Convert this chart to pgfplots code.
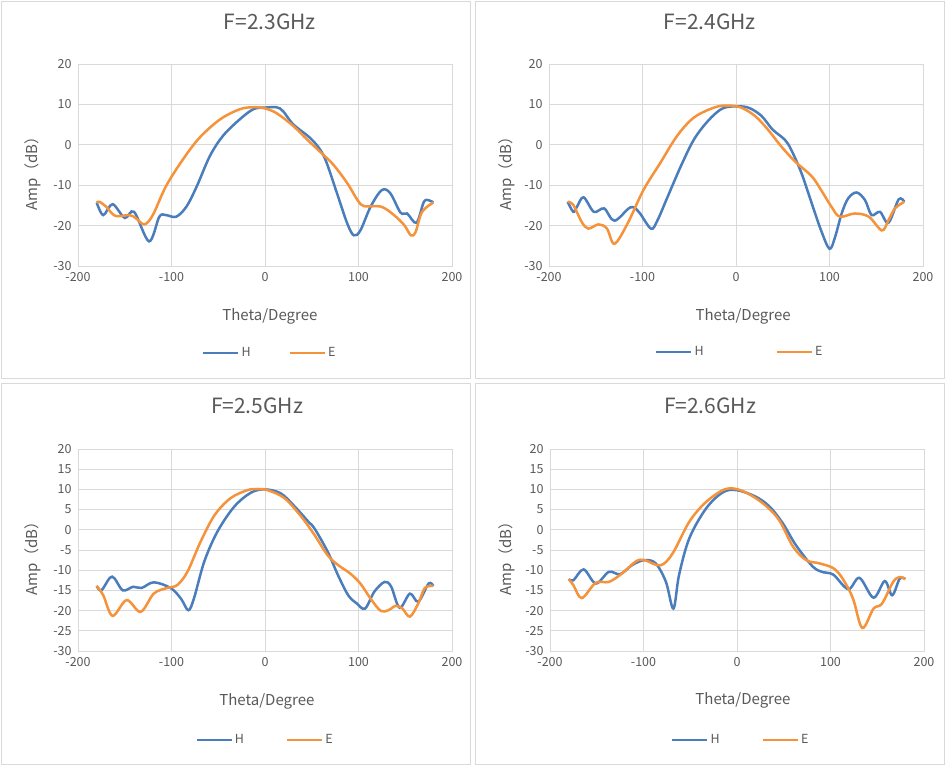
\documentclass[border=0pt]{standalone}
\usepackage{pgfplots}
\pgfplotsset{compat=1.18}
\usepackage{fontspec}
\setmainfont{Noto Sans CJK SC}
\definecolor{hblue}{HTML}{4A7DBB}
\definecolor{eorange}{HTML}{F5923A}
\definecolor{txt}{HTML}{595959}
\definecolor{gridc}{HTML}{D9D9D9}
\pgfplotsset{
  panel/.style={
    scale only axis, width=374pt, height=202pt,
    anchor=south west,
    xmin=-200, xmax=200, ymin=-30, ymax=20,
    xtick={-200,-100,0,100,200},
    grid=major, major grid style={gridc, line width=0.8pt},
    axis line style={gridc, line width=0.8pt},
    major tick length=0pt,
    tick label style={txt, font=\fontsize{12.5}{14}\selectfont},
    /pgf/number format/assume math mode=true,
    xticklabel style={yshift=-3pt},
    yticklabel style={xshift=-3pt},
    title style={txt, font=\fontsize{21}{24}\selectfont, anchor=center},
    xlabel style={txt, font=\fontsize{15}{17}\selectfont, anchor=center},
    ylabel style={txt, font=\fontsize{15}{17}\selectfont, anchor=center},
    xlabel={Theta/Degree}, ylabel={Amp（dB）},
    legend columns=2,
    legend style={draw=none, fill=none, anchor=center, text=txt, font=\fontsize{12.5}{14}\selectfont},
    legend image code/.code={\draw[#1] (0pt,0pt) -- (35pt,0pt);},
    every axis plot/.append style={line width=2.5pt, smooth, tension=0.55},
  }
}
\begin{document}
\begin{tikzpicture}[x=1pt,y=1pt]
\useasboundingbox (0pt,0pt) rectangle (945pt,765pt);
\path[fill=white] (0pt,0pt) rectangle (945pt,765pt);
\draw[gridc, line width=0.8pt] (1pt,387pt) rectangle (470pt,764pt);
\draw[gridc, line width=0.8pt] (475pt,387pt) rectangle (944pt,764pt);
\draw[gridc, line width=0.8pt] (1pt,1pt) rectangle (470pt,382pt);
\draw[gridc, line width=0.8pt] (475pt,1pt) rectangle (944pt,382pt);

% Panel 1
\begin{axis}[panel, at={(78pt,499pt)},
  ytick={-30,-20,...,20},
  title={F=2.3GHz}, title style={at={(axis description cs:0.513,1.178)}},
  xlabel style={at={(axis description cs:0.513,-0.248)}},
  ylabel style={at={(axis description cs:-0.12,0.475)}},
  legend style={at={(axis description cs:0.513,-0.431)}, /tikz/every even column/.append style={column sep=36pt}}]
\addplot[hblue] coordinates {
(-180,-14.3) (-173,-17.4) (-163,-14.7) (-150,-18.1) (-140,-16.6) (-124,-23.9)
(-113,-17.8) (-106,-17.4) (-95,-17.8) (-84,-15.3) (-73,-10.3) (-59,-2.8)
(-45,2.2) (-27,6.3) (-12.5,8.8) (0,9.2) (16,9.0) (30,5.1) (48,1.75) (59,-1.2)
(66,-4.5) (77,-12) (88,-19.5) (95,-22.4) (102,-21.2) (113,-15.3) (125,-11.2)
(134,-12) (145,-16.8) (152,-17) (162,-19.3) (170,-14.1) (176,-13.8) (180,-14.3)};
\addlegendentry{H}
\addplot[eorange] coordinates {
(-180,-14.3) (-177,-14.1) (-170,-15.3) (-160,-17.6) (-145,-17.4) (-138,-18.2)
(-129,-19.7) (-120,-17.4) (-106,-10.3) (-88,-3.7) (-70,1.75) (-48,6.3)
(-27,8.8) (-12.5,9.3) (0,9.0) (12.5,7.8) (30,4.7) (45,1.3) (59,-1.75)
(73,-4.9) (88,-9.5) (99,-13.7) (106,-15.2) (124,-15.3) (138,-17.4)
(149,-19.9) (156,-22.4) (161,-21.6) (168,-16.6) (180,-14.3)};
\addlegendentry{E}
\end{axis}

% Panel 2
\begin{axis}[panel, at={(549pt,499pt)},
  ytick={-30,-20,...,20},
  title={F=2.4GHz}, title style={at={(axis description cs:0.43,1.178)}},
  xlabel style={at={(axis description cs:0.519,-0.248)}},
  ylabel style={at={(axis description cs:-0.112,0.475)}},
  legend style={at={(axis description cs:0.51,-0.426)}, /tikz/every even column/.append style={column sep=70pt}}]
\addplot[hblue] coordinates {
(-180,-14.1) (-174,-16.6) (-170,-15.3) (-163,-13) (-152,-16.6) (-141,-15.75)
(-130,-18.8) (-113,-15.5) (-104,-16.6) (-91,-20.75) (-84,-18.7) (-73,-12.8)
(-59,-5.3) (-45,1.3) (-30,5.9) (-16,8.8) (-4,9.5) (12.5,9.25) (27,7.2)
(39,3.8) (52,1.3) (59,-1.2) (70,-7) (81,-14.5) (91,-21.2) (100,-25.75)
(106,-22.8) (113,-17) (120,-13.25) (129,-11.8) (138,-13.7) (145,-17.4)
(154,-16.6) (163,-19.3) (174,-13.5) (180,-14.1)};
\addlegendentry{H}
\addplot[eorange] coordinates {
(-180,-14.1) (-174,-14.9) (-165,-19.1) (-158,-20.75) (-147,-19.7) (-138,-20.75)
(-130,-24.5) (-116,-19.5) (-99,-11.2) (-81,-4.5) (-63,2.2) (-45,6.75)
(-23,9.25) (-9,9.7) (5,9.25) (20,7.2) (34,3.8) (48,-0.3) (63,-4.1)
(81,-7.8) (91,-11.2) (102,-15.3) (111,-17.8) (127,-17) (142,-17.8)
(156,-21.2) (163,-18.7) (170,-15.75) (180,-14.1)};
\addlegendentry{E}
\end{axis}

% Panel 3
\begin{axis}[panel, at={(78pt,114pt)},
  ytick={-30,-25,...,20},
  title={F=2.5GHz}, title style={at={(axis description cs:0.479,1.183)}},
  xlabel style={at={(axis description cs:0.505,-0.252)}},
  ylabel style={at={(axis description cs:-0.12,0.475)}},
  legend style={at={(axis description cs:0.5,-0.44)}, /tikz/every even column/.append style={column sep=40pt}}]
\addplot[hblue] coordinates {
(-180,-13.9) (-175,-15) (-166,-11.9) (-161,-12) (-152,-15) (-141,-14.1)
(-132,-14.4) (-119,-13) (-101,-14.4) (-90,-17) (-82,-19.9) (-76,-17)
(-65,-7.9) (-51,-0.5) (-33,5.7) (-15,9.2) (0,10) (17,9) (32,5.7) (46,2.1)
(53,0.3) (67,-5.4) (78,-11.2) (89,-16.2) (98,-18.2) (107,-19.5) (117,-15.3)
(128,-12.9) (135,-14.1) (144,-19.3) (155,-15.8) (164,-17.8) (175,-13.3) (180,-13.9)};
\addlegendentry{H}
\addplot[eorange] coordinates {
(-180,-13.9) (-173,-16.2) (-163,-21.3) (-148,-17.4) (-133,-20.3) (-119,-15.8)
(-105,-14.4) (-94,-13.7) (-83,-10.4) (-69,-3) (-54,3.6) (-37,7.8) (-19,9.8)
(-8,10.1) (3,9.8) (21,7.8) (39,3.2) (53,-1.3) (67,-6.3) (78,-8.7) (91,-10.8)
(102,-13.3) (114,-17.4) (124,-20.1) (132,-19.9) (140,-18.8) (147,-19.5)
(155,-21.5) (164,-18.2) (171,-14.4) (180,-13.9)};
\addlegendentry{E}
\end{axis}

% Panel 4
\begin{axis}[panel, at={(550pt,114pt)},
  ytick={-30,-25,...,20},
  title={F=2.6GHz}, title style={at={(axis description cs:0.428,1.183)}},
  xlabel style={at={(axis description cs:0.516,-0.243)}},
  ylabel style={at={(axis description cs:-0.115,0.475)}},
  legend style={at={(axis description cs:0.51,-0.44)}, /tikz/every even column/.append style={column sep=40pt}}]
\addplot[hblue] coordinates {
(-180,-12.2) (-175,-12.5) (-164,-9.8) (-151,-13.3) (-137,-10.4) (-125,-11)
(-112,-8.7) (-99,-7.5) (-87,-8.3) (-76,-12.9) (-68,-19.5) (-62,-11.2)
(-51,-2.1) (-33,5.3) (-15,9.3) (0,9.8) (20,8.2) (35,5.7) (49,1.6) (63,-3.8)
(81,-9.1) (92,-10.5) (103,-11.1) (119,-14.7) (131,-11.9) (146,-16.8)
(158,-12.7) (166,-16.2) (174,-12.1) (180,-12.2)};
\addlegendentry{H}
\addplot[eorange] coordinates {
(-180,-12.2) (-175,-13.7) (-166,-16.9) (-151,-13.1) (-137,-12.9) (-123,-10.8)
(-108,-7.8) (-99,-7.5) (-82,-8.8) (-69,-5.9) (-51,2) (-33,6.9) (-12,10.1)
(6,9.6) (28,6.5) (45,2.4) (60,-4.2) (74,-7.5) (88,-8.3) (103,-9.5)
(113,-12.1) (124,-17) (134,-24.3) (146,-19.5) (155,-18.3) (167,-12.9)
(174,-11.7) (180,-12.2)};
\addlegendentry{E}
\end{axis}
\end{tikzpicture}
\end{document}
